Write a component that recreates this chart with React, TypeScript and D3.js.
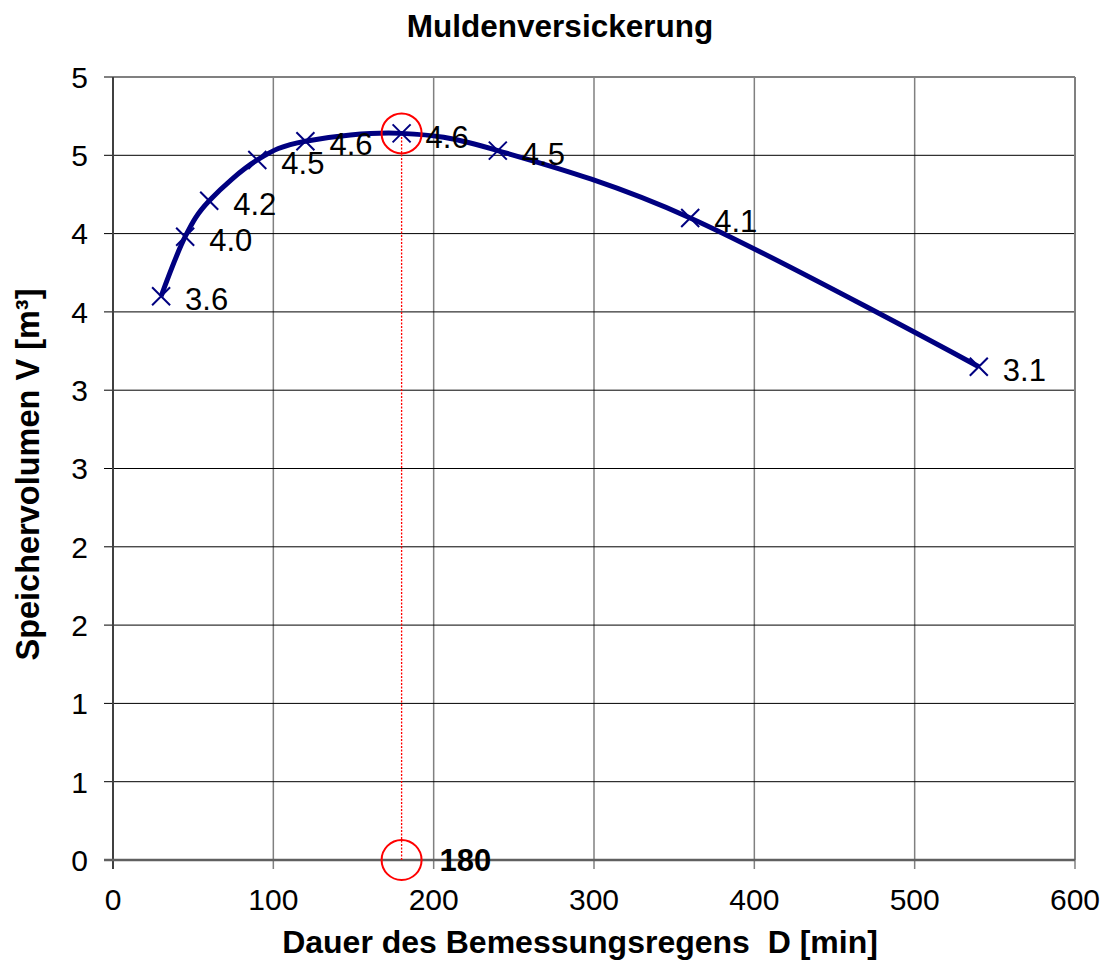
import React from "react";
import * as d3 from "d3";

// Dauer D [min] und Speichervolumen V [m³]
const durations = [30, 45, 60, 90, 120, 180, 240, 360, 540];
const volumes = [3.6, 3.98, 4.21, 4.47, 4.59, 4.64, 4.53, 4.1, 3.15];
const pointLabels = ["3.6", "4.0", "4.2", "4.5", "4.6", "4.6", "4.5", "4.1", "3.1"];

const xTicks = [0, 100, 200, 300, 400, 500, 600];
const yTicks = [0, 0.5, 1, 1.5, 2, 2.5, 3, 3.5, 4, 4.5, 5];
const yTickLabels = ["0", "1", "1", "2", "2", "3", "3", "4", "4", "5", "5"];

const markedDuration = 180;
const markedVolume = 4.64;

const W = 1110;
const H = 971;
const margin = { left: 113, right: 35, top: 77, bottom: 111 };
const font = "'Liberation Sans', Arial, sans-serif";

const App: React.FC = () => {
  const x = d3.scaleLinear().domain([0, 600]).range([margin.left, W - margin.right]);
  const y = d3.scaleLinear().domain([0, 5]).range([H - margin.bottom, margin.top]);

  const pts: [number, number][] = durations.map((d, i) => [x(d), y(volumes[i])]);
  const line = d3.line().curve(d3.curveCardinal.tension(0))(pts) || "";

  const x0 = x.range()[0];
  const x1 = x.range()[1];
  const y0 = y.range()[0];
  const y1 = y.range()[1];
  const m = 9;

  return (
    <svg
      width={W}
      height={H}
      style={{ position: "absolute", left: 0, top: 0, background: "#fff" }}
      fontFamily={font}
    >
      <text x={560} y={37} textAnchor="middle" fontSize={31.5} fontWeight="bold">
        Muldenversickerung
      </text>

      {/* vertikale Gitterlinien */}
      {xTicks.map((t) => (
        <line key={"gx" + t} x1={x(t)} x2={x(t)} y1={y1} y2={y0 + 9} stroke="#808080" strokeWidth={1.5} />
      ))}
      {/* horizontale Gitterlinien */}
      {yTicks.map((t) => (
        <line key={"gy" + t} x1={x0 - 9} x2={x1} y1={y(t)} y2={y(t)} stroke={t === 5 ? "#808080" : "#000"} strokeWidth={t === 5 ? 2 : 1} />
      ))}
      <line x1={x0} x2={x0} y1={y1} y2={y0 + 9} stroke="#404040" strokeWidth={2} />
      <line x1={x1} x2={x1} y1={y1} y2={y0} stroke="#808080" strokeWidth={2} />
      <line x1={x0 - 9} x2={x1} y1={y0} y2={y0} stroke="#606060" strokeWidth={2.5} />

      {yTicks.map((t, i) => (
        <text key={"ly" + t} x={88} y={y(t)} dy="0.36em" textAnchor="end" fontSize={30}>
          {yTickLabels[i]}
        </text>
      ))}
      {xTicks.map((t) => (
        <text key={"lx" + t} x={x(t)} y={910} textAnchor="middle" fontSize={30}>
          {t}
        </text>
      ))}

      <text x={580} y={953} textAnchor="middle" fontSize={32} fontWeight="bold" xmlSpace="preserve">
        {"Dauer des Bemessungsregens  D [min]"}
      </text>
      <text
        transform={`translate(39, ${(y0 + y1) / 2 + 6}) rotate(-90)`}
        textAnchor="middle"
        fontSize={32.5}
        fontWeight="bold"
      >
        Speichervolumen V [m³]
      </text>

      {/* Markierung */}
      <line
        x1={x(markedDuration)}
        x2={x(markedDuration)}
        y1={y(markedVolume)}
        y2={y(0)}
        stroke="#ff0000"
        strokeWidth={1.3}
        strokeDasharray="2,1.5"
      />

      <path d={line} fill="none" stroke="#000080" strokeWidth={5} strokeLinejoin="round" />
      {pts.map(([px, py], i) => (
        <g key={"p" + i}>
          <path
            d={`M${px - m},${py - m}L${px + m},${py + m}M${px - m},${py + m}L${px + m},${py - m}`}
            stroke="#000080"
            strokeWidth={2}
          />
          <text x={px + 24} y={py + 3} dy="0.36em" fontSize={31}>
            {pointLabels[i]}
          </text>
        </g>
      ))}

      <circle cx={x(markedDuration)} cy={y(markedVolume)} r={20} fill="none" stroke="#ff0000" strokeWidth={2} />
      <circle cx={x(markedDuration)} cy={y(0)} r={20} fill="none" stroke="#ff0000" strokeWidth={2} />
      <text x={x(markedDuration) + 38} y={y(0)} dy="0.36em" fontSize={31} fontWeight="bold">
        {markedDuration}
      </text>
    </svg>
  );
};

export default App;
